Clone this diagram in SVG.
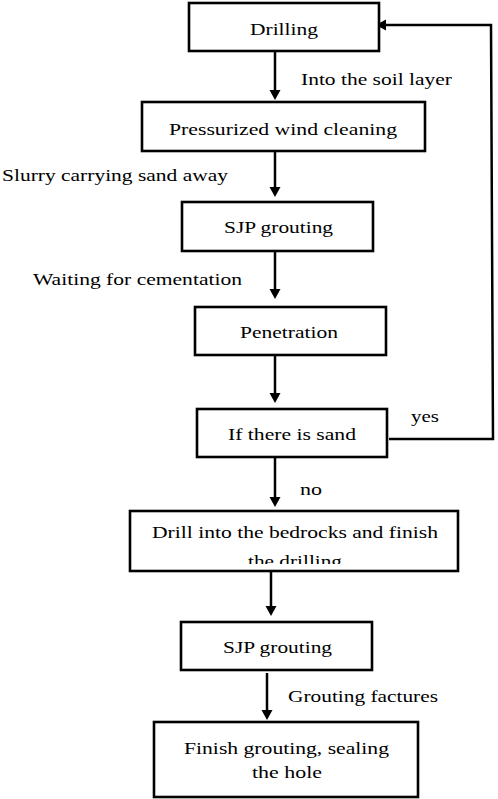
<svg xmlns="http://www.w3.org/2000/svg" width="498" height="799" viewBox="0 0 498 799">
<style>
.box{fill:#fff;stroke:#000;stroke-width:2.6}
.t{font-family:'Liberation Serif','DejaVu Serif','Times New Roman',Times,serif;font-size:17px;fill:#000}
.c{fill:none;stroke:#000;stroke-width:2.5}
</style>
<defs>
<marker id="ah" markerUnits="userSpaceOnUse" markerWidth="12" markerHeight="12" refX="6" refY="5.5" orient="auto">
<path d="M0,0 L10,5.5 L0,11 z" fill="#000"/>
</marker>
<clipPath id="clipDrill"><rect x="130" y="511" width="328" height="53"/></clipPath>
</defs>
<rect width="498" height="799" fill="#fff"/>
<g id="connectors">
<line class="c" x1="275" y1="51" x2="275" y2="96" marker-end="url(#ah)"/>
<line class="c" x1="275" y1="151" x2="275" y2="193" marker-end="url(#ah)"/>
<line class="c" x1="275" y1="251" x2="275" y2="295" marker-end="url(#ah)"/>
<line class="c" x1="275" y1="355" x2="275" y2="399" marker-end="url(#ah)"/>
<line class="c" x1="275" y1="458" x2="275" y2="503" marker-end="url(#ah)"/>
<line class="c" x1="271" y1="571" x2="271" y2="612" marker-end="url(#ah)"/>
<line class="c" x1="267" y1="673" x2="267" y2="716" marker-end="url(#ah)"/>
<polyline class="c" points="389,439 493,439 491,25 380,25" marker-end="url(#ah)"/>
<text class="t" x="301" y="85" textLength="151" lengthAdjust="spacingAndGlyphs">Into the soil layer</text>
<text class="t" x="2" y="181" textLength="226" lengthAdjust="spacingAndGlyphs">Slurry carrying sand away</text>
<text class="t" x="33" y="285" textLength="209" lengthAdjust="spacingAndGlyphs">Waiting for cementation</text>
<text class="t" x="411" y="422" textLength="28" lengthAdjust="spacingAndGlyphs">yes</text>
<text class="t" x="300" y="495" textLength="22" lengthAdjust="spacingAndGlyphs">no</text>
<text class="t" x="288" y="702" textLength="150" lengthAdjust="spacingAndGlyphs">Grouting factures</text>
</g>
<g id="n1">
<rect class="box" x="189" y="3" width="190" height="48"/>
<text class="t" x="250" y="35" textLength="68" lengthAdjust="spacingAndGlyphs">Drilling</text>
</g>
<g id="n2">
<rect class="box" x="142" y="102" width="283" height="49"/>
<text class="t" x="169" y="135" textLength="228" lengthAdjust="spacingAndGlyphs">Pressurized wind cleaning</text>
</g>
<g id="n3">
<rect class="box" x="182" y="202" width="191" height="49"/>
<text class="t" x="224" y="233" textLength="109" lengthAdjust="spacingAndGlyphs">SJP grouting</text>
</g>
<g id="n4">
<rect class="box" x="195" y="307" width="191" height="48"/>
<text class="t" x="240" y="338" textLength="98" lengthAdjust="spacingAndGlyphs">Penetration</text>
</g>
<g id="n5">
<rect class="box" x="197" y="409" width="190" height="48"/>
<text class="t" x="228" y="440" textLength="128" lengthAdjust="spacingAndGlyphs">If there is sand</text>
</g>
<g id="n6">
<rect class="box" x="130" y="511" width="328" height="60"/>
<text class="t" x="152" y="538" textLength="286" lengthAdjust="spacingAndGlyphs">Drill into the bedrocks and finish</text>
<text class="t" x="248" y="567" textLength="94" lengthAdjust="spacingAndGlyphs" clip-path="url(#clipDrill)">the drilling</text>
</g>
<g id="n7">
<rect class="box" x="181" y="622" width="191" height="48"/>
<text class="t" x="223" y="653" textLength="109" lengthAdjust="spacingAndGlyphs">SJP grouting</text>
</g>
<g id="n8">
<rect class="box" x="154" y="722" width="264" height="75"/>
<text class="t" x="184" y="754" textLength="205" lengthAdjust="spacingAndGlyphs">Finish grouting, sealing</text>
<text class="t" x="252" y="778" textLength="70" lengthAdjust="spacingAndGlyphs">the hole</text>
</g>
</svg>
